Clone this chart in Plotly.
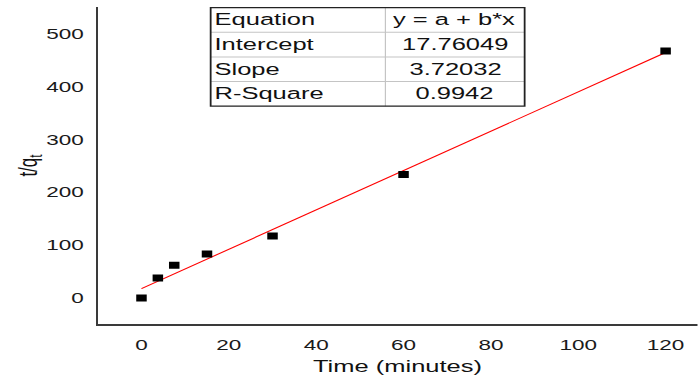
import plotly.graph_objects as go

# Pseudo-second-order kinetics: t/qt versus contact time
time_min = [0, 3.75, 7.5, 15, 30, 60, 120]
t_over_qt = [0, 37.7, 61.9, 83.2, 117.5, 233.6, 467]

# Linear fit results
intercept = 17.76049
slope = 3.72032
r_square = 0.9942
fit_x = [0, 120]

table_labels = ["Equation", "Intercept", "Slope", "R-Square"]
table_values = ["y = a + b*x", "17.76049", "3.72032", "0.9942"]

x_ticks = [0, 20, 40, 60, 80, 100, 120]
y_ticks = [0, 100, 200, 300, 400, 500]

# The figure is laid out at a narrower base width and widened horizontally on the page
STRETCH = 1.5
W = 698 / STRETCH
H = 378
M_L, M_R, M_T, M_B = 65, 0, 6.7, 53.7
PW = W - M_L - M_R
PH = H - M_T - M_B

FONT = "Liberation Sans, Arial, sans-serif"


def px_x(px):
    return (px - M_L) / PW


def px_y(py):
    return 1 - (py - M_T) / PH


fig = go.Figure()

fig.add_trace(go.Scatter(
    x=fit_x,
    y=[intercept + slope * v for v in fit_x],
    mode="lines",
    line=dict(color="#ff0000", width=1),
    hoverinfo="skip",
    showlegend=False,
))

fig.add_trace(go.Scatter(
    x=time_min,
    y=t_over_qt,
    mode="markers",
    marker=dict(symbol="square", size=7, color="#000000", line=dict(width=0)),
    showlegend=False,
))

# Fit-statistics table in the upper part of the plot
tb_left, tb_right, tb_mid = 140.5, 350.0, 257.1
tb_top, row_h = 7.3, 24.7
n_rows = len(table_labels)
tb_bottom = tb_top + row_h * n_rows

shapes = []
for i in range(1, n_rows):
    yy = px_y(tb_top + row_h * i)
    shapes.append(dict(type="line", xref="paper", yref="paper",
                       x0=px_x(tb_left), x1=px_x(tb_right), y0=yy, y1=yy,
                       line=dict(color="#c4c4c4", width=1)))
shapes.append(dict(type="line", xref="paper", yref="paper",
                   x0=px_x(tb_mid), x1=px_x(tb_mid),
                   y0=px_y(tb_top), y1=px_y(tb_bottom),
                   line=dict(color="#c4c4c4", width=0.8)))
shapes.append(dict(type="rect", xref="paper", yref="paper",
                   x0=px_x(tb_left), x1=px_x(tb_right),
                   y0=px_y(tb_bottom), y1=px_y(tb_top),
                   line=dict(color="#222222", width=1.2),
                   fillcolor="rgba(0,0,0,0)"))

annotations = []
for i, (lab, val) in enumerate(zip(table_labels, table_values)):
    yc = px_y(tb_top + row_h * (i + 0.5))
    annotations.append(dict(xref="paper", yref="paper", x=px_x(tb_left + 0.8), y=yc,
                            xanchor="left", yanchor="middle", text=lab, showarrow=False,
                            font=dict(family=FONT, size=17, color="#111111")))
    annotations.append(dict(xref="paper", yref="paper", x=px_x((tb_mid + tb_right) / 2), y=yc,
                            xanchor="center", yanchor="middle", text=val, showarrow=False,
                            font=dict(family=FONT, size=17, color="#111111")))

fig.update_layout(
    width=W,
    height=H,
    margin=dict(l=M_L, r=M_R, t=M_T, b=M_B, pad=0),
    paper_bgcolor="white",
    plot_bgcolor="white",
    shapes=shapes,
    annotations=annotations,
    font=dict(family=FONT, color="#1a1a1a"),
    xaxis=dict(
        range=[-10.07, 127.3],
        tickvals=x_ticks,
        ticks="",
        showgrid=False,
        zeroline=False,
        showline=True,
        linecolor="#3a3a3a",
        linewidth=2,
        tickfont=dict(family=FONT, size=15, color="#1a1a1a"),
        ticklabelstandoff=6,
        title=dict(text="Time (minutes)", font=dict(family=FONT, size=17, color="#111111"),
                   standoff=8),
        automargin=False,
    ),
    yaxis=dict(
        range=[-49.1, 550.2],
        tickvals=y_ticks,
        ticks="",
        showgrid=False,
        zeroline=False,
        showline=True,
        linecolor="#3a3a3a",
        linewidth=1.3,
        tickfont=dict(family=FONT, size=15, color="#1a1a1a"),
        ticklabelstandoff=5,
        title=dict(text="t/q<sub>t</sub>", font=dict(family=FONT, size=17, color="#111111"),
                   standoff=1),
        automargin=False,
    ),
)

post = """
var gd = document.getElementById('{plot_id}');
document.documentElement.style.margin = '0';
document.body.style.margin = '0';
document.body.style.overflow = 'hidden';
gd.style.transformOrigin = '0 0';
gd.style.transform = 'scale(%s, 1)';
""" % STRETCH

fig.write_html("out.html", post_script=post, config=dict(displayModeBar=False))
